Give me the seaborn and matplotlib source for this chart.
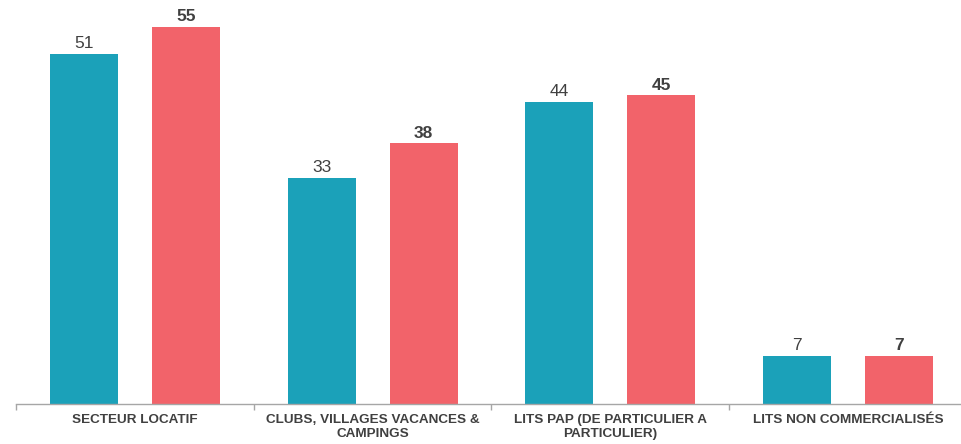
import matplotlib
matplotlib.use("Agg")
import matplotlib.pyplot as plt
import seaborn as sns
import pandas as pd

categories = ["SECTEUR LOCATIF", "CLUBS, VILLAGES VACANCES &\nCAMPINGS",
              "LITS PAP (DE PARTICULIER A\nPARTICULIER)", "LITS NON COMMERCIALISÉS"]
series_names = ["Série 1", "Série 2"]
values_s1 = [51, 33, 44, 7]
values_s2 = [55, 38, 45, 7]
colors = ["#1ba1b9", "#f2636a"]

df = pd.DataFrame({
    "cat": categories * 2,
    "serie": [series_names[0]] * 4 + [series_names[1]] * 4,
    "val": values_s1 + values_s2,
})

sns.set_theme(style="white")
plt.rcParams["font.family"] = ["Liberation Sans", "DejaVu Sans"]

fig = plt.figure(figsize=(9.62, 4.44), dpi=100)
ax = fig.add_axes([16 / 962, 40 / 444, 946 / 962, 404 / 444])

sns.barplot(data=df, x="cat", y="val", hue="serie", order=categories,
            hue_order=series_names, palette=colors, width=0.858, gap=0.333,
            saturation=1, legend=False, ax=ax, edgecolor="none")

ax.set_xlim(-0.5, -0.5 + 946 / 237.7)
ax.set_ylim(0, 404 / 6.86)

for i, cont in enumerate(ax.containers):
    ax.bar_label(cont, labels=[str(v) for v in (values_s1 if i == 0 else values_s2)],
                 padding=2, fontsize=12.5, color="#404040",
                 fontweight="bold" if i == 1 else "normal")

for s in ["top", "right", "left"]:
    ax.spines[s].set_visible(False)
ax.spines["bottom"].set_color("#a6a6a6")
ax.spines["bottom"].set_linewidth(1)
ax.set_yticks([])
ax.set_xlabel("")
ax.set_ylabel("")
ax.set_xticks(range(len(categories)))
ax.set_xticklabels(categories, fontsize=9.7, fontweight="bold", color="#404040",
                   linespacing=1.2)
ax.tick_params(axis="x", which="major", length=0, pad=7)
ax.set_xticks([-0.5, 0.5, 1.5, 2.5], minor=True)
ax.tick_params(axis="x", which="minor", length=4, color="#a6a6a6", width=1, bottom=True)

fig.savefig("out.png", dpi=100)
